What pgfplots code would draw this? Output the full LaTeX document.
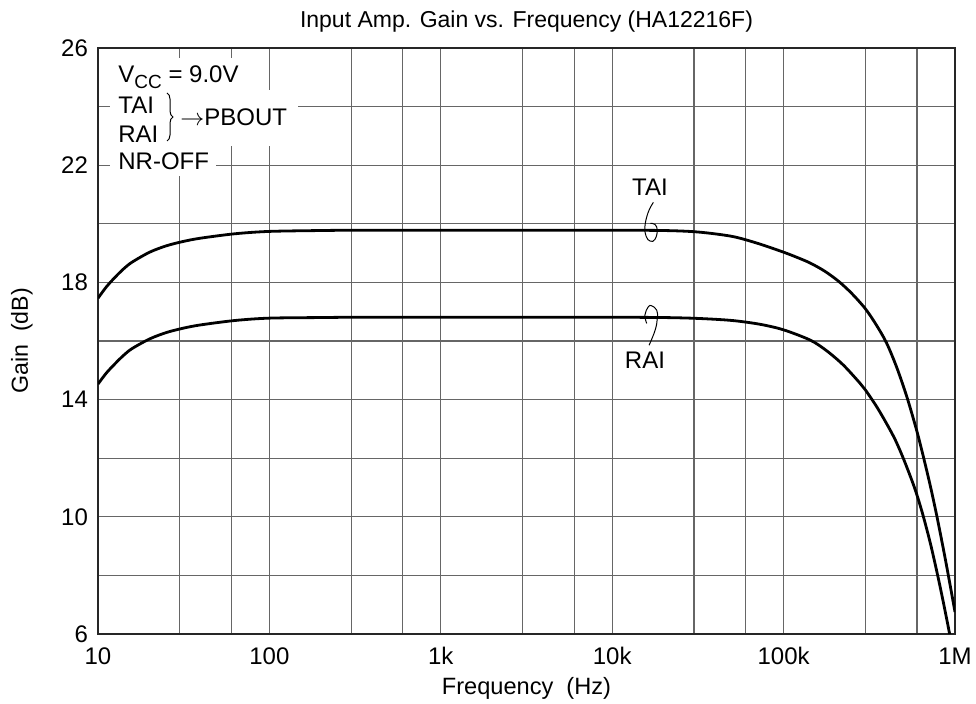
\documentclass[border=0pt]{standalone}
\usepackage{fontspec}
\setmainfont{Liberation Sans}
\usepackage{pgfplots}
\pgfplotsset{compat=1.18}
\usetikzlibrary{decorations.pathreplacing}
\begin{document}
\begin{tikzpicture}[font=\fontsize{12}{14}\selectfont]
\useasboundingbox (-49pt,-35pt) rectangle (439pt,317pt);
\begin{axis}[
  at={(0,0)}, anchor=south west,
  scale only axis, width=428.5pt, height=293pt,
  xmode=log, xmin=10, xmax=1000000, ymin=6, ymax=26,
  xtick={10,100,1000,10000,100000,1000000},
  xticklabels={10,100,1k,10k,100k,1M},
  minor xtick={30,60,300,600,3000,6000,30000,60000,300000,600000},
  ytick={6,10,14,18,22,26},
  minor ytick={8,12,16,20,24},
  grid=both,
  major grid style={black!60, line width=0.6pt},
  minor grid style={black!60, line width=0.6pt},
  major tick length=0pt, minor tick length=0pt,
  axis line style={black!85, line width=1pt},
  /pgf/number format/assume math mode=true,
  xticklabel style={anchor=base, yshift=-15.5pt},
  yticklabel style={xshift=-1.5pt},
  every axis title shift=0pt,
  title={Input Amp. Gain vs. Frequency (HA12216F)},
  title style={at={(axis description cs:0.5,1.0444)}, anchor=center, yshift=0pt, font=\fontsize{11.5}{13}\selectfont},
  xlabel={Frequency\ \ (Hz)},
  xlabel style={at={(axis description cs:0.5,-0.0922)}, anchor=center, font=\fontsize{11.8}{13}\selectfont},
  ylabel={Gain\ \ (dB)},
  ylabel style={at={(axis description cs:-0.0887,0.5)}, anchor=center, font=\fontsize{11.6}{13}\selectfont},
  clip=true,
]
% TAI
\addplot[black, line width=1.4pt, smooth, tension=0.5] coordinates {
(10,17.46)(11.2,17.85)(12.6,18.18)(14.1,18.46)(15.8,18.69)(20,19.03)(25.1,19.25)
(31.6,19.40)(39.8,19.51)(63.1,19.66)(100,19.74)(200,19.77)(316,19.78)(1000,19.78)
(3162,19.78)(10000,19.78)(20000,19.77)(31600,19.72)(50000,19.57)(70800,19.33)
(100000,19.03)(119000,18.86)(143000,18.66)(174000,18.38)(210000,18.03)(250000,17.62)
(300000,17.10)(349000,16.53)(399000,15.93)(457000,15.10)(524000,14.09)(600000,12.91)
(659000,11.97)(720000,11.02)(782000,10.05)(845000,9.06)(902000,8.19)(1000000,6.75)
};
% RAI
\addplot[black, line width=1.4pt, smooth, tension=0.5] coordinates {
(10,14.53)(11.2,14.91)(12.6,15.23)(14.1,15.51)(15.8,15.74)(20,16.07)(25.1,16.29)
(31.6,16.44)(39.8,16.55)(63.1,16.70)(100,16.78)(200,16.80)(316,16.81)(1000,16.81)
(3162,16.81)(10000,16.81)(20000,16.80)(31600,16.77)(50000,16.70)(72800,16.57)
(100000,16.38)(143000,16.03)(178000,15.67)(223000,15.18)(279000,14.56)(300000,14.33)
(349000,13.76)(399000,13.18)(447000,12.64)(499000,12.0)(562000,11.22)(600000,10.74)
(653000,10.02)(720000,9.07)(789000,8.05)(851000,7.14)(927000,6.05)(1000000,5.05)
};
% curve labels
\node at (axis cs:16620,21.26) {TAI};
\node at (axis cs:15530,15.35) {RAI};
\begin{scope}[shift={(axis cs:17380,20.73)}, x=1pt, y=1pt]
\draw[black, line width=0.5pt] plot[smooth, tension=0.7] coordinates
 {(0,0) (-2.6,-5) (-4.2,-12) (-3.6,-17) (-1.5,-19.4) (0.8,-18.5) (2,-14) (0.8,-11) (-1.5,-10.5)};
\end{scope}
\begin{scope}[shift={(axis cs:15900,16.60)}, x=1pt, y=1pt]
\draw[black, line width=0.5pt] plot[smooth, tension=0.7] coordinates
 {(0,0) (-0.9,4.2) (0.8,8.3) (2.5,8.8) (5,6.6) (5.3,2.5) (4.2,-3.4) (1.2,-10.9)};
\end{scope}
% condition box
\fill[white] ([xshift=6pt,yshift=-5pt]rel axis cs:0,1) rectangle ([xshift=74pt,yshift=-22pt]rel axis cs:0,1);
\fill[white] ([xshift=6pt,yshift=-21pt]rel axis cs:0,1) rectangle ([xshift=100pt,yshift=-49pt]rel axis cs:0,1);
\fill[white] ([xshift=6pt,yshift=-49pt]rel axis cs:0,1) rectangle ([xshift=59pt,yshift=-64pt]rel axis cs:0,1);
\node[anchor=west, inner sep=0pt] at ([xshift=10pt,yshift=-14.5pt]rel axis cs:0,1) {V\raisebox{-0.45ex}{\fontsize{9.5}{10}\selectfont CC} = 9.0V};
\node[anchor=west, inner sep=0pt] at ([xshift=10pt,yshift=-28.5pt]rel axis cs:0,1) {TAI};
\node[anchor=west, inner sep=0pt] at ([xshift=10pt,yshift=-43pt]rel axis cs:0,1) {RAI};
\node[anchor=west, inner sep=0pt] at ([xshift=10pt,yshift=-56.5pt]rel axis cs:0,1) {NR-OFF};
\draw[black, line width=0.5pt, decorate, decoration={brace, amplitude=3pt}]
  ([xshift=34.5pt,yshift=-22.5pt]rel axis cs:0,1) -- ([xshift=34.5pt,yshift=-46.5pt]rel axis cs:0,1);
\node[anchor=west, inner sep=0pt] at ([xshift=41pt,yshift=-34.5pt]rel axis cs:0,1) {$\rightarrow$PBOUT};
\end{axis}
\end{tikzpicture}
\end{document}
